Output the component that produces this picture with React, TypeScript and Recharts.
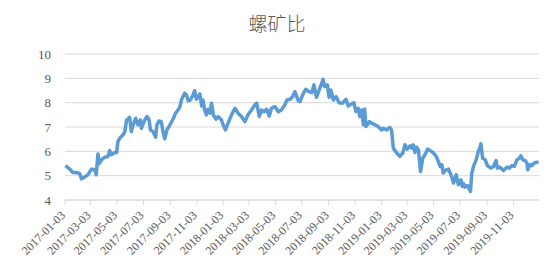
import { LineChart, Line, XAxis, YAxis, CartesianGrid } from "recharts";

// days since 2017-01-03
const days = [
  1, 11, 18, 26, 34, 38, 45, 53, 61, 69, 72, 76, 79, 84, 92, 99, 103, 107, 115, 119,
  122, 126, 134, 138, 142, 145, 149, 153, 157, 163, 168, 174, 176, 184, 189, 194, 197, 203, 209, 212,
  217, 222, 226, 230, 235, 242, 249, 255, 261, 265, 269, 276, 280, 284, 289, 294, 299, 303, 307, 311,
  315, 318, 322, 326, 330, 334, 338, 342, 348, 353, 361, 363, 370, 376, 384, 392, 399, 407, 415, 422,
  430, 438, 442, 448, 453, 459, 465, 471, 476, 484, 492, 499, 507, 512, 519, 525, 530, 538, 542, 548,
  555, 563, 569, 574, 580, 586, 592, 595, 599, 605, 609, 613, 619, 625, 632, 640, 648, 653, 661, 666,
  671, 676, 680, 684, 688, 691, 694, 702, 707, 715, 722, 730, 734, 742, 749, 753, 757, 765, 772, 779,
  784, 789, 796, 800, 803, 807, 811, 815, 820, 825, 830, 836, 842, 849, 856, 861, 865, 869, 872, 879,
  884, 890, 896, 902, 907, 913, 916, 919, 922, 928, 932, 935, 938, 942, 948, 953, 957, 959, 963, 969,
  974, 982, 988, 994, 997, 1003, 1011, 1019, 1025, 1030, 1036, 1042, 1048, 1051, 1056, 1061, 1065, 1067, 1071, 1076,
  1082, 1088, 1092,
];

const ratio = [
  5.41, 5.27, 5.13, 5.13, 5.08, 4.87, 4.94, 5.04, 5.27, 5.24, 5.04, 5.89, 5.49, 5.65, 5.76, 5.79, 6.03, 5.86, 5.95, 5.95,
  6.4, 6.54, 6.68, 6.81, 7.29, 7.32, 7.4, 6.81, 7.09, 7.36, 7.09, 7.29, 6.95, 7.29, 7.43, 7.29, 6.88, 6.81, 6.58, 7.09,
  7.25, 7.22, 6.81, 6.51, 6.88, 7.09, 7.32, 7.57, 7.7, 7.84, 8.14, 8.39, 8.32, 8.08, 8.11, 8.27, 8.49, 8.14, 8.25, 8.36,
  7.86, 8.11, 7.7, 7.5, 7.73, 7.57, 7.98, 7.5, 7.32, 7.43, 7.29, 7.16, 6.88, 7.16, 7.5, 7.77, 7.57, 7.43, 7.22, 7.5,
  7.7, 7.91, 7.98, 7.43, 7.7, 7.63, 7.73, 7.45, 7.77, 7.84, 7.63, 7.7, 7.91, 8.11, 8.14, 8.25, 8.45, 8.07, 8.04, 8.32,
  8.55, 8.45, 8.41, 8.73, 8.22, 8.52, 8.8, 8.96, 8.66, 8.73, 8.22, 8.52, 8.11, 8.25, 8.0, 7.98, 8.14, 7.86, 7.95, 8.0,
  7.63, 7.77, 7.43, 7.7, 7.09, 7.74, 7.02, 7.22, 7.16, 7.09, 7.02, 6.88, 6.95, 6.88, 6.98, 6.88, 6.13, 5.93, 5.79, 5.93,
  6.27, 6.09, 6.23, 6.13, 6.27, 5.95, 6.17, 6.06, 5.17, 5.72, 5.86, 6.09, 6.03, 5.95, 5.79, 5.58, 5.38, 5.45, 5.11, 5.24,
  5.27, 5.04, 4.7, 5.04, 4.63, 4.83, 4.56, 4.67, 4.53, 4.59, 4.45, 4.35, 5.11, 5.38, 5.65, 5.99, 6.17, 6.31, 5.72, 5.65,
  5.41, 5.31, 5.38, 5.62, 5.31, 5.35, 5.21, 5.35, 5.31, 5.41, 5.38, 5.65, 5.72, 5.82, 5.65, 5.62, 5.52, 5.24, 5.45, 5.41,
  5.52, 5.55, 5.55,
];

const tickDates = [
  "2017-01-03", "2017-03-03", "2017-05-03", "2017-07-03", "2017-09-03", "2017-11-03",
  "2018-01-03", "2018-03-03", "2018-05-03", "2018-07-03", "2018-09-03", "2018-11-03",
  "2019-01-03", "2019-03-03", "2019-05-03", "2019-07-03", "2019-09-03", "2019-11-03",
];

const yTicks = [4, 5, 6, 7, 8, 9, 10];

const start = Date.UTC(2017, 0, 3);
const toDay = (s: string) => {
  const [y, m, d] = s.split("-").map(Number);
  return Math.round((Date.UTC(y, m - 1, d) - start) / 86400000);
};
const xTicks = tickDates.map(toDay);
const labelFor: Record<number, string> = {};
tickDates.forEach((s, i) => (labelFor[xTicks[i]] = s));

const data = days.map((d, i) => ({ day: d, v: ratio[i] }));

const font = '"Liberation Serif", "DejaVu Serif", serif';

function DateTick(props: any) {
  const { x, y, payload } = props;
  const ax = x + 1;
  const ay = y + 9;
  return (
    <text
      x={ax}
      y={ay}
      transform={`rotate(-45, ${ax}, ${ay})`}
      textAnchor="end"
      fontSize={12}
      fontFamily={font}
      fill="#595959"
    >
      {labelFor[payload.value]}
    </text>
  );
}

export default function App() {
  return (
    <div style={{ position: "absolute", left: 0, top: 0, width: 554, height: 277, background: "#fff" }}>
      <div
        style={{
          position: "absolute",
          left: 0,
          width: 554,
          top: 9,
          textAlign: "center",
          fontSize: 19,
          color: "#595959",
          fontFamily: '"Noto Sans CJK SC", sans-serif',
          fontWeight: 300,
        }}
      >
        螺矿比
      </div>
      <LineChart width={554} height={277} data={data} margin={{ top: 54, right: 15, left: 25, bottom: 7 }}>
        <CartesianGrid vertical={false} stroke="#D9D9D9" />
        <XAxis
          dataKey="day"
          type="number"
          domain={[0, 1093]}
          ticks={xTicks}
          interval={0}
          stroke="#D9D9D9"
          tickSize={5}
          height={70}
          tick={<DateTick />}
        />
        <YAxis
          domain={[4, 10]}
          ticks={yTicks}
          axisLine={false}
          tickLine={false}
          width={40}
          tickMargin={8}
          tick={{ fontSize: 13, fontFamily: font, fill: "#595959" }}
        />
        <Line
          dataKey="v"
          stroke="#5B9BD5"
          strokeWidth={3.5}
          dot={false}
          isAnimationActive={false}
          strokeLinejoin="round"
        />
      </LineChart>
    </div>
  );
}
